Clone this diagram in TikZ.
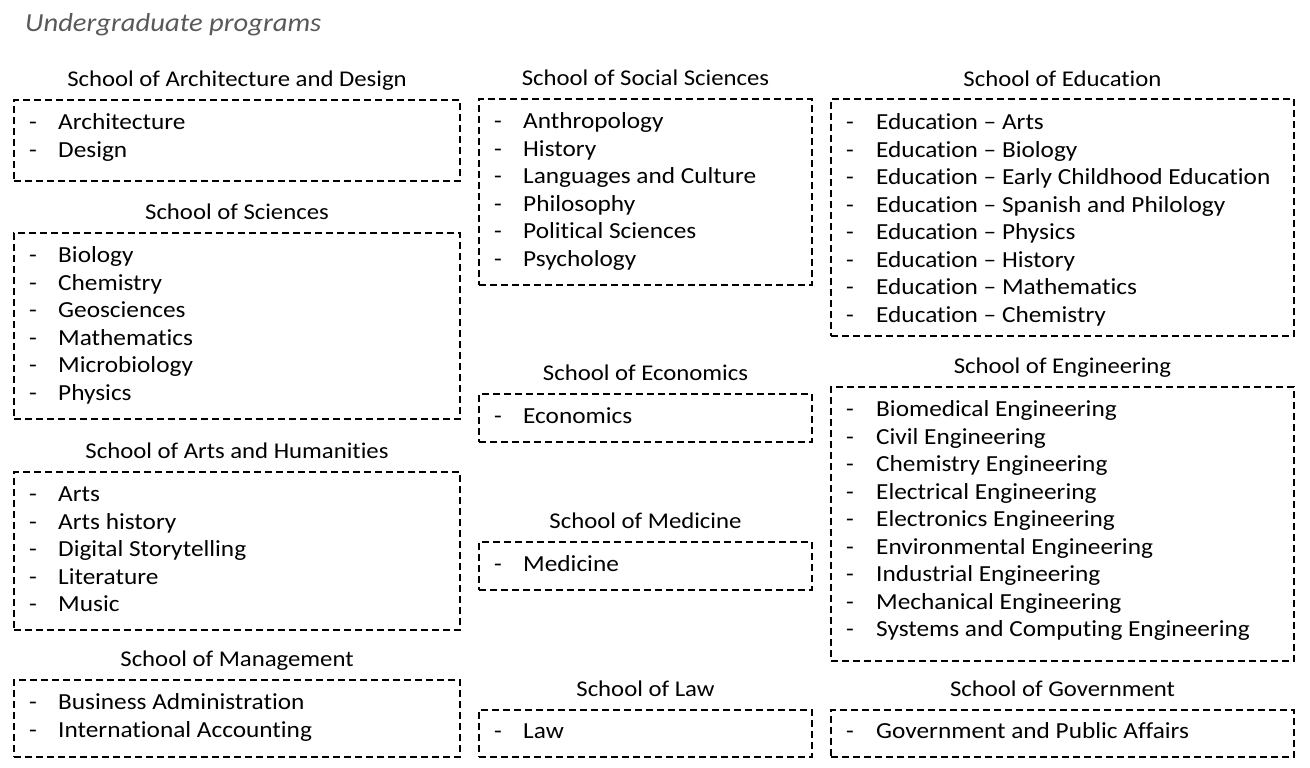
\documentclass[tikz,border=0pt]{standalone}
\usepackage{fontspec}
\setmainfont{Carlito}[FakeStretch=1.1, RawFeature=-liga]
\begin{document}
\begin{tikzpicture}[x=1pt,y=-1pt,
  box/.style={draw, dash pattern=on 7pt off 4pt, line width=1.3pt, inner sep=0pt},
  txt/.style={inner sep=0pt, font=\fontsize{23}{27}\selectfont},
  item/.style={txt, anchor=base west},
  dashmark/.style={txt, anchor=base},
  head/.style={inner sep=0pt, anchor=base, font=\fontsize{22.5}{27}\selectfont},
  ttl/.style={inner sep=0pt, anchor=base west, font=\fontsize{26}{30}\selectfont\itshape, text=titlegrey}]
\definecolor{titlegrey}{HTML}{595959}
\useasboundingbox (0,0) rectangle (1310,768);
\node[ttl] (title) at (25,31.5) {Undergraduate programs};
% generic list macro: #1 name, #2 dash x, #3 text x, #4 first row centre y, #5 list
\newcommand\proglist[5]{%
  \foreach \t [count=\i] in {#5} {%
    \node[dashmark] (#1-d\i) at (#2,{#4+27.55*(\i-1)+8.5}) {-};
    \node[item] (#1-\i) at (#3,{#4+27.55*(\i-1)+8.5}) {\t};
  }}
% left column
\node[head] (h-ad) at (237,86.5) {School of Architecture and Design};
\node[box, minimum width=446pt, minimum height=81pt] (b-ad) at (237,140.5) {};
\proglist{ad}{33}{58}{121}{Architecture,Design}
\node[head] (h-sc) at (237,219.5) {School of Sciences};
\node[box, minimum width=446pt, minimum height=186pt] (b-sc) at (237,326) {};
\proglist{sc}{33}{58}{254}{Biology,Chemistry,Geosciences,Mathematics,Microbiology,Physics}
\node[head] (h-ah) at (237,458.5) {School of Arts and Humanities};
\node[box, minimum width=446pt, minimum height=158pt] (b-ah) at (237,551) {};
\proglist{ah}{33}{58}{493}{Arts,Arts history,Digital Storytelling,Literature,Music}
\node[head] (h-mg) at (237,666.5) {School of Management};
\node[box, minimum width=446pt, minimum height=77pt] (b-mg) at (237,718.5) {};
\proglist{mg}{33}{58}{701}{Business Administration,International Accounting}
% middle column
\node[head] (h-ss) at (645.5,85.5) {School of Social Sciences};
\node[box, minimum width=333pt, minimum height=186pt] (b-ss) at (645.5,192) {};
\proglist{ss}{498}{523}{120}{Anthropology,History,Languages and Culture,Philosophy,Political Sciences,Psychology}
\node[head] (h-ec) at (645.5,380.5) {School of Economics};
\node[box, minimum width=333pt, minimum height=48pt] (b-ec) at (645.5,418) {};
\proglist{ec}{498}{523}{415}{Economics}
\node[head] (h-md) at (645.5,528.5) {School of Medicine};
\node[box, minimum width=333pt, minimum height=48pt] (b-md) at (645.5,566) {};
\proglist{md}{498}{523}{563}{Medicine}
\node[head] (h-lw) at (645.5,696.5) {School of Law};
\node[box, minimum width=333pt, minimum height=47pt] (b-lw) at (645.5,733.5) {};
\proglist{lw}{498}{523}{730}{Law}
% right column
\node[head] (h-ed) at (1062.5,86.5) {School of Education};
\node[box, minimum width=463pt, minimum height=237pt] (b-ed) at (1062.5,217.5) {};
\proglist{ed}{850}{876}{121}{Education – Arts,Education – Biology,Education – Early Childhood Education,Education – Spanish and Philology,Education – Physics,Education – History,Education – Mathematics,Education – Chemistry}
\node[head] (h-en) at (1062.5,373.5) {School of Engineering};
\node[box, minimum width=463pt, minimum height=274pt] (b-en) at (1062.5,524) {};
\proglist{en}{850}{876}{408}{Biomedical Engineering,Civil Engineering,Chemistry Engineering,Electrical Engineering,Electronics Engineering,Environmental Engineering,Industrial Engineering,Mechanical Engineering,Systems and Computing Engineering}
\node[head] (h-gv) at (1062.5,696.5) {School of Government};
\node[box, minimum width=463pt, minimum height=47pt] (b-gv) at (1062.5,733.5) {};
\proglist{gv}{850}{876}{730}{Government and Public Affairs}
\end{tikzpicture}
\end{document}
